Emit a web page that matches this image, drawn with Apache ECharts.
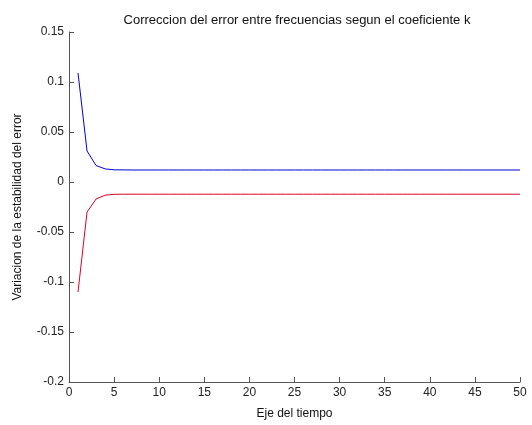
<!DOCTYPE html>
<html>
<head>
<meta charset="utf-8">
<script src="https://cdn.jsdelivr.net/npm/echarts@6/dist/echarts.min.js"></script>
<style>
  html, body { margin: 0; padding: 0; background: #fff; }
  #chart { width: 532px; height: 425px; }
</style>
</head>
<body>
<div id="chart"></div>
<script>
// eje del tiempo: k = 1..50
const tiempo = [
  1, 2, 3, 4, 5, 6, 7, 8, 9, 10,
  11, 12, 13, 14, 15, 16, 17, 18, 19, 20,
  21, 22, 23, 24, 25, 26, 27, 28, 29, 30,
  31, 32, 33, 34, 35, 36, 37, 38, 39, 40,
  41, 42, 43, 44, 45, 46, 47, 48, 49, 50
];
// curva superior (azul)
const errorPos = [
  0.109, 0.031, 0.0165, 0.0131, 0.0122, 0.0121, 0.012, 0.012, 0.012, 0.012,
  0.012, 0.012, 0.012, 0.012, 0.012, 0.012, 0.012, 0.012, 0.012, 0.012,
  0.012, 0.012, 0.012, 0.012, 0.012, 0.012, 0.012, 0.012, 0.012, 0.012,
  0.012, 0.012, 0.012, 0.012, 0.012, 0.012, 0.012, 0.012, 0.012, 0.012,
  0.012, 0.012, 0.012, 0.012, 0.012, 0.012, 0.012, 0.012, 0.012, 0.012
];
// curva inferior (roja)
const errorNeg = [
  -0.110, -0.030, -0.017, -0.0132, -0.0123, -0.0122, -0.0122, -0.0122, -0.0122, -0.0122,
  -0.0122, -0.0122, -0.0122, -0.0122, -0.0122, -0.0122, -0.0122, -0.0122, -0.0122, -0.0122,
  -0.0122, -0.0122, -0.0122, -0.0122, -0.0122, -0.0122, -0.0122, -0.0122, -0.0122, -0.0122,
  -0.0122, -0.0122, -0.0122, -0.0122, -0.0122, -0.0122, -0.0122, -0.0122, -0.0122, -0.0122,
  -0.0122, -0.0122, -0.0122, -0.0122, -0.0122, -0.0122, -0.0122, -0.0122, -0.0122, -0.0122
];

const font = "Liberation Sans, Arial, sans-serif";
const axisColor = "#555";

let myChart = echarts.init(document.getElementById("chart"));
let option = {
  animation: false,
  title: {
    text: "Correccion del error entre frecuencias segun el coeficiente k",
    left: 292,
    textAlign: "center",
    top: 9,
    textStyle: { fontFamily: font, fontSize: 13, fontWeight: "normal", color: "#111" }
  },
  grid: { left: 69, right: 12, top: 32, bottom: 40 },
  xAxis: {
    type: "value",
    min: 0,
    max: 50,
    interval: 5,
    name: "Eje del tiempo",
    nameLocation: "middle",
    nameGap: 26,
    nameTextStyle: { fontFamily: font, fontSize: 12, color: "#111" },
    axisLine: { onZero: false, lineStyle: { color: axisColor, width: 1 } },
    axisTick: { inside: true, length: 5, lineStyle: { color: axisColor } },
    axisLabel: { fontFamily: font, fontSize: 12, color: "#222", margin: 5 },
    splitLine: { show: false }
  },
  yAxis: {
    type: "value",
    min: -0.2,
    max: 0.15,
    interval: 0.05,
    name: "Variacion de la estabilidad del error",
    nameLocation: "middle",
    nameGap: 45,
    nameTextStyle: { fontFamily: font, fontSize: 12, color: "#111" },
    axisLine: { lineStyle: { color: axisColor, width: 1 } },
    axisTick: { inside: true, length: 5, lineStyle: { color: axisColor } },
    axisLabel: {
      fontFamily: font,
      fontSize: 12,
      color: "#222",
      margin: 5,
      formatter: v => String(+v.toFixed(2))
    },
    splitLine: { show: false }
  },
  series: [
    {
      type: "line",
      data: tiempo.map((t, i) => [t, errorPos[i]]),
      showSymbol: false,
      lineStyle: { color: "#0000d0", width: 1 },
      itemStyle: { color: "#0000d0" }
    },
    {
      type: "line",
      data: tiempo.map((t, i) => [t, errorNeg[i]]),
      showSymbol: false,
      lineStyle: { color: "#d8002a", width: 1 },
      itemStyle: { color: "#d8002a" }
    }
  ]
};
myChart.setOption(option);
</script>
</body>
</html>
